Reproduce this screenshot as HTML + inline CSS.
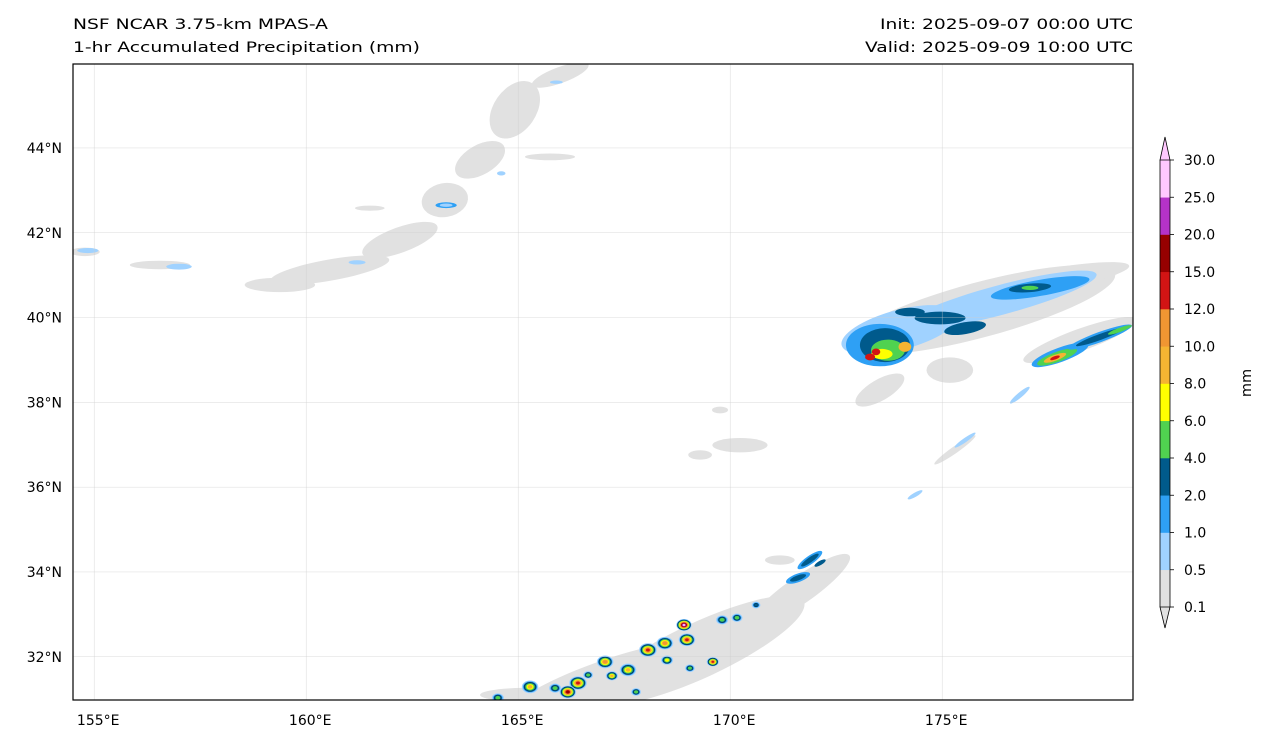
<!DOCTYPE html>
<html><head><meta charset="utf-8"><style>
body{margin:0;background:#fff;}
svg{font-family:"DejaVu Sans","Liberation Sans",sans-serif;}
</style></head><body>
<svg id="chart" width="1268" height="745">
<text x="73" y="29" font-size="14.5" textLength="255" lengthAdjust="spacingAndGlyphs">NSF NCAR 3.75-km MPAS-A</text>
<text x="73" y="52" font-size="14.5" textLength="347" lengthAdjust="spacingAndGlyphs">1-hr Accumulated Precipitation (mm)</text>
<text x="880" y="29" font-size="14.5" textLength="253" lengthAdjust="spacingAndGlyphs">Init: 2025-09-07 00:00 UTC</text>
<text x="865" y="52" font-size="14.5" textLength="268" lengthAdjust="spacingAndGlyphs">Valid: 2025-09-09 10:00 UTC</text>
<defs><clipPath id="mc"><rect x="73" y="64" width="1060" height="636"/></clipPath></defs>
<g id="map" clip-path="url(#mc)"></g>
<g id="grid"></g>
<rect x="73" y="64" width="1060" height="636" fill="none" stroke="#000" stroke-width="1.2"/>
<g id="axes"></g>
<g id="cbar"></g>
<text transform="translate(1251,383) rotate(-90)" font-size="14.5" text-anchor="middle">mm</text>
</svg>
<script>
const levels=["0.1","0.5","1.0","2.0","4.0","6.0","8.0","10.0","12.0","15.0","20.0","25.0","30.0"];
const colors=["#e1e1e1","#a0d2ff","#2ea0f5","#005a8c","#50d250","#ffff00","#f5b432","#f09632","#d21414","#960000","#b432c8","#ffc8ff"];
const lonTicks=[155,160,165,170,175];
const latTicks=[32,34,36,38,40,42,44];
// areas: [lon, lat, rxDeg, ryDeg, rotDeg, levelIndex]
const areas=[
[165.99,45.72,.71,.19,-20,0],[164.92,44.90,.5,.75,35,0],[164.10,43.72,.65,.35,-30,0],[163.27,42.77,.55,.4,-10,0],
[162.21,41.83,.94,.3,-20,0],[160.56,41.12,1.42,.25,-10,0],[159.38,40.77,.83,.17,0,0],[156.55,41.24,.71,.1,0,0],
[154.78,41.55,.35,.1,0,0],[161.50,42.58,.35,.06,0,0],[165.75,43.79,.59,.08,0,0],
[175.89,40.18,3.3,.65,-15,0],[177.54,40.89,1.9,.26,-10,0],[173.53,38.29,.65,.25,-30,0],[175.18,38.76,.55,.3,0,0],
[178.25,39.47,1.42,.26,-20,0],[175.30,36.88,.59,.08,-35,0],[170.23,36.99,.65,.17,0,0],[169.29,36.76,.28,.11,0,0],[169.76,37.82,.19,.08,0,0],
[171.65,33.57,1.42,.32,-35,0],[169.29,32.16,2.7,.65,-25,0],[166.93,31.45,2.3,.42,-20,0],[165.28,31.10,1.18,.17,0,0],[171.17,34.28,.35,.11,0,0],
[165.9,45.55,.15,.04,0,1],[163.3,42.65,.25,.07,0,2],[163.3,42.65,.15,.04,0,1],[157.0,41.2,.3,.07,0,1],[154.85,41.58,.25,.06,0,1],[161.2,41.3,.2,.05,0,1],[164.6,43.4,.1,.05,0,1],
[174.00,39.71,1.42,.47,-15,1],[176.36,40.41,2.36,.35,-15,1],[177.31,40.70,1.18,.19,-10,2],
[174.95,39.99,.6,.15,0,3],[174.24,40.13,.35,.1,0,3],[175.54,39.75,.5,.14,-10,3],[177.07,40.70,.5,.1,-5,3],[177.07,40.70,.2,.05,0,4],
[173.53,39.35,.8,.5,0,2],[173.65,39.35,.59,.4,0,3],[173.72,39.23,.4,.25,0,4],[173.58,39.14,.25,.12,0,5],[174.12,39.31,.15,.12,0,6],
[173.44,39.19,.1,.08,0,8],[173.30,39.07,.12,.08,0,8],
[177.78,39.12,.71,.17,-20,2],[177.71,39.07,.5,.12,-20,4],[177.66,39.05,.28,.07,-20,6],[177.66,39.05,.12,.04,-20,8],
[178.72,39.54,.8,.12,-20,2],[178.72,39.54,.6,.07,-20,3],[179.19,39.71,.3,.05,-20,4],
[176.83,38.17,.3,.06,-40,1],[175.54,37.11,.3,.05,-35,1],[174.36,35.82,.2,.05,-30,1],
[171.88,34.28,.35,.1,-35,2],[171.88,34.28,.25,.06,-35,3],[171.60,33.86,.3,.1,-20,2],[171.60,33.86,.2,.06,-20,3],[172.12,34.21,.15,.05,-30,3]
];
// convective cells: [lon, lat, maxLevelIndex, sizeDeg]
const cells=[
[165.28,31.29,6,.15],[165.87,31.26,4,.11],[166.41,31.38,8,.16],[167.05,31.88,7,.15],[167.59,31.69,6,.15],
[168.06,32.16,8,.16],[168.46,32.32,7,.15],[168.91,32.75,11,.14],[168.98,32.40,8,.15],[168.51,31.92,5,.11],
[169.05,31.73,4,.09],[169.59,31.88,8,.11],[169.81,32.87,4,.11],[170.16,32.92,4,.1],[170.61,33.22,3,.08],
[167.78,31.17,4,.09],[166.17,31.17,9,.15],[164.52,31.03,4,.11],[166.65,31.57,4,.09],[167.21,31.55,6,.11]
];
const X=lon=>73+(lon-154.5)*42.4, Y=lat=>64+(45.98-lat)*42.4, S=d=>d*42.4;
const NS="http://www.w3.org/2000/svg";
function mk(tag,at,parent){const e=document.createElementNS(NS,tag);for(const k in at)e.setAttribute(k,at[k]);parent.appendChild(e);return e;}
const map=document.getElementById('map');
areas.forEach(a=>{
 const e=mk('ellipse',{cx:X(a[0]),cy:Y(a[1]),rx:S(a[2]),ry:S(a[3]),fill:colors[a[5]],transform:`rotate(${a[4]} ${X(a[0])} ${Y(a[1])})`},map);
 
 
});
cells.forEach(c=>{
 for(let k=1;k<=c[2];k++){
  const r=S(c[3])*(1-(k-1)/(c[2]+1));
  const e=mk('ellipse',{cx:X(c[0]),cy:Y(c[1]),rx:r*1.3,ry:r,fill:colors[k],stroke:k==3?'#003050':'none','stroke-width':0.6},map);
  
  
 }
});
const grid=document.getElementById('grid'),axes=document.getElementById('axes');
lonTicks.forEach(v=>{
 const g=mk('line',{x1:X(v),x2:X(v),y1:64,y2:700,stroke:'#ccc','stroke-width':0.5,'stroke-opacity':0.7},grid);
 
 
 const t=mk('text',{x:X(v)+4,y:725,'font-size':14,'text-anchor':'middle'},axes);t.textContent=v+'°E';
 
 
});
latTicks.forEach(v=>{
 const g=mk('line',{x1:73,x2:1133,y1:Y(v),y2:Y(v),stroke:'#ccc','stroke-width':0.5,'stroke-opacity':0.7},grid);
 
 
 const t=mk('text',{x:62,y:Y(v)+5,'font-size':14,'text-anchor':'end'},axes);t.textContent=v+'°N';
 
 
});
const cb=document.getElementById('cbar');const cbTop=160,cbBot=607,h=(cbBot-cbTop)/colors.length;
colors.forEach((c,i)=>{
 const r=mk('rect',{x:1160,y:cbBot-(i+1)*h,width:10,height:h+0.3,fill:c},cb);
 
 
});
const tt=mk('polygon',{points:`1160,${cbTop} 1165,137 1170,${cbTop}`,fill:colors[11],stroke:'#000','stroke-width':0.8},cb);


const tb=mk('polygon',{points:`1160,${cbBot} 1165,628 1170,${cbBot}`,fill:colors[0],stroke:'#000','stroke-width':0.8},cb);


mk('polyline',{points:`1160,${cbTop} 1160,${cbBot}`,stroke:'#000','stroke-width':0.8},cb);
mk('polyline',{points:`1170,${cbTop} 1170,${cbBot}`,stroke:'#000','stroke-width':0.8},cb);
levels.forEach((l,i)=>{
 const y=cbBot-i*h;
 mk('line',{x1:1170,x2:1174,y1:y,y2:y,stroke:'#000','stroke-width':0.8},cb);
 const t=mk('text',{x:1184,y:y+5,'font-size':14},cb);t.textContent=l;
 
 
});
</script>
</body></html>
